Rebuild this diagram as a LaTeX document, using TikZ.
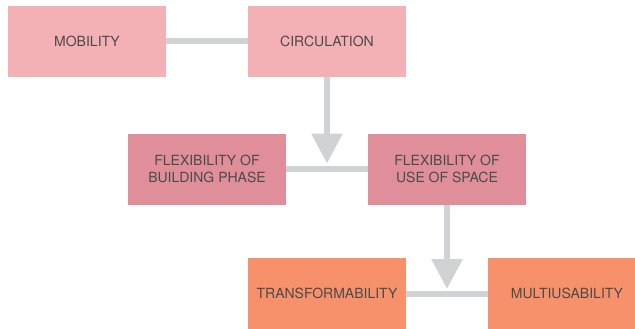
\documentclass[tikz,border=0pt]{standalone}
\usepackage{fontspec}
\setmainfont{TeX Gyre Heros}
\usetikzlibrary{arrows.meta}
\definecolor{toppink}{HTML}{F3B0B5}
\definecolor{midpink}{HTML}{E18E9B}
\definecolor{lowsalmon}{HTML}{F6916B}
\definecolor{linegray}{HTML}{D1D2D4}
\definecolor{textgray}{HTML}{4A4A4A}
\begin{document}
\begin{tikzpicture}[x=1pt, y=-1pt, line width=6pt,
   box_style/.style={rectangle, minimum width=158pt, minimum height=71pt, inner sep=0pt,
     outer sep=0pt, align=center, text=textgray, font=\fontsize{14}{17}\selectfont},
   edge_style/.style={draw=linegray, line width=6pt},
   arrow_style/.style={draw=linegray, line width=6pt, -{Triangle[width=30pt,length=30pt]}, shorten >=5pt}]
	  \useasboundingbox (0,0) rectangle (635,329);

	  \node [box_style, fill=toppink] (n1) at (87,41.5) {MOBILITY};
	  \node [box_style, fill=toppink] (n2) at (327,41.5) {CIRCULATION};
	  \node [box_style, fill=midpink] (n3) at (207,169) {FLEXIBILITY OF\\BUILDING PHASE};
	  \node [box_style, fill=midpink] (n4) at (447,169) {FLEXIBILITY OF\\USE OF SPACE};
	  \node [box_style, fill=lowsalmon] (n5) at (327,293.5) {TRANSFORMABILITY};
	  \node [box_style, fill=lowsalmon] (n6) at (567,293.5) {MULTIUSABILITY};

	  \coordinate (j1) at (327,168.5);
	  \coordinate (j2) at (447,294);

	  \foreach \from/\to in {n1/n2, n3/n4, n5/n6}
	    \draw [edge_style] (\from) -- (\to);

	  \draw [arrow_style] (n2.south) -- (j1);
	  \draw [arrow_style] (n4.south) -- (j2);

	\end{tikzpicture}
\end{document}
